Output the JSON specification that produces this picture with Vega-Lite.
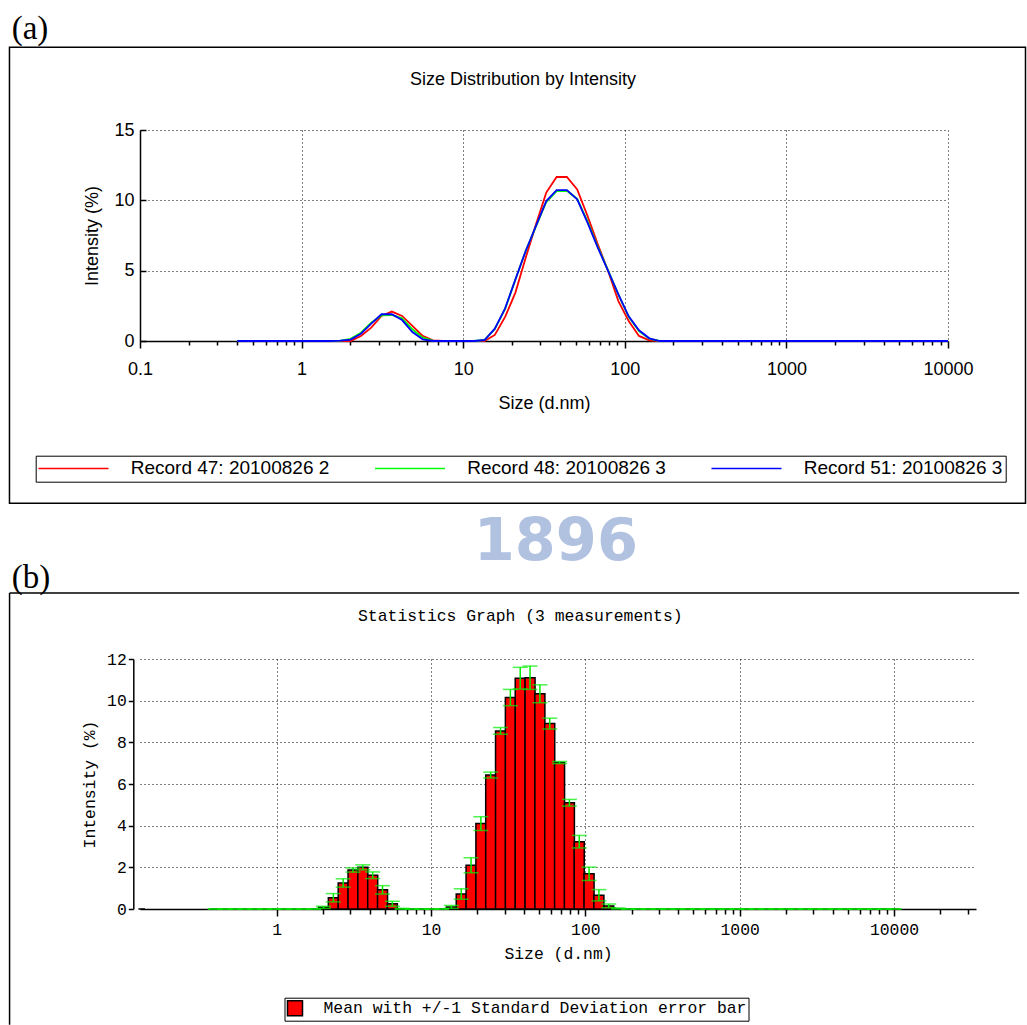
{
  "$schema": "https://vega.github.io/schema/vega-lite/v6.json",
  "background": "white",
  "padding": {"left": 8, "top": 12, "right": 0, "bottom": 0},
  "spacing": 8,
  "bounds": "full",
  "resolve": {"scale": {"color": "independent"}, "legend": {"color": "independent"}},
  "config": {"view": {"stroke": null}},
  "datasets": {
    "curves": [
      {"record": "Record 47: 20100826 2", "size": 0.4, "intensity": 0},
      {"record": "Record 47: 20100826 2", "size": 1.736, "intensity": 0},
      {"record": "Record 47: 20100826 2", "size": 2.01, "intensity": 0},
      {"record": "Record 47: 20100826 2", "size": 2.328, "intensity": 0.36},
      {"record": "Record 47: 20100826 2", "size": 2.696, "intensity": 0.95},
      {"record": "Record 47: 20100826 2", "size": 3.122, "intensity": 1.78},
      {"record": "Record 47: 20100826 2", "size": 3.615, "intensity": 2.09},
      {"record": "Record 47: 20100826 2", "size": 4.187, "intensity": 1.78},
      {"record": "Record 47: 20100826 2", "size": 4.849, "intensity": 1.07},
      {"record": "Record 47: 20100826 2", "size": 5.615, "intensity": 0.36},
      {"record": "Record 47: 20100826 2", "size": 6.503, "intensity": 0.05},
      {"record": "Record 47: 20100826 2", "size": 7.531, "intensity": 0},
      {"record": "Record 47: 20100826 2", "size": 11.7, "intensity": 0},
      {"record": "Record 47: 20100826 2", "size": 13.54, "intensity": 0},
      {"record": "Record 47: 20100826 2", "size": 15.69, "intensity": 0.43},
      {"record": "Record 47: 20100826 2", "size": 18.17, "intensity": 1.71},
      {"record": "Record 47: 20100826 2", "size": 21.04, "intensity": 3.44},
      {"record": "Record 47: 20100826 2", "size": 24.36, "intensity": 5.92},
      {"record": "Record 47: 20100826 2", "size": 28.21, "intensity": 8.29},
      {"record": "Record 47: 20100826 2", "size": 32.67, "intensity": 10.55},
      {"record": "Record 47: 20100826 2", "size": 37.84, "intensity": 11.66},
      {"record": "Record 47: 20100826 2", "size": 43.82, "intensity": 11.66},
      {"record": "Record 47: 20100826 2", "size": 50.75, "intensity": 10.78},
      {"record": "Record 47: 20100826 2", "size": 58.77, "intensity": 8.89},
      {"record": "Record 47: 20100826 2", "size": 68.06, "intensity": 6.87},
      {"record": "Record 47: 20100826 2", "size": 78.82, "intensity": 4.98},
      {"record": "Record 47: 20100826 2", "size": 91.28, "intensity": 2.84},
      {"record": "Record 47: 20100826 2", "size": 105.7, "intensity": 1.42},
      {"record": "Record 47: 20100826 2", "size": 122.4, "intensity": 0.36},
      {"record": "Record 47: 20100826 2", "size": 141.8, "intensity": 0.05},
      {"record": "Record 47: 20100826 2", "size": 164.2, "intensity": 0},
      {"record": "Record 47: 20100826 2", "size": 10000, "intensity": 0},
      {"record": "Record 48: 20100826 3", "size": 0.4, "intensity": 0},
      {"record": "Record 48: 20100826 3", "size": 1.499, "intensity": 0},
      {"record": "Record 48: 20100826 3", "size": 1.736, "intensity": 0.03},
      {"record": "Record 48: 20100826 3", "size": 2.01, "intensity": 0.15},
      {"record": "Record 48: 20100826 3", "size": 2.328, "intensity": 0.59},
      {"record": "Record 48: 20100826 3", "size": 2.696, "intensity": 1.3},
      {"record": "Record 48: 20100826 3", "size": 3.122, "intensity": 1.82},
      {"record": "Record 48: 20100826 3", "size": 3.615, "intensity": 1.85},
      {"record": "Record 48: 20100826 3", "size": 4.187, "intensity": 1.61},
      {"record": "Record 48: 20100826 3", "size": 4.849, "intensity": 0.83},
      {"record": "Record 48: 20100826 3", "size": 5.615, "intensity": 0.24},
      {"record": "Record 48: 20100826 3", "size": 6.503, "intensity": 0.02},
      {"record": "Record 48: 20100826 3", "size": 7.531, "intensity": 0},
      {"record": "Record 48: 20100826 3", "size": 11.7, "intensity": 0},
      {"record": "Record 48: 20100826 3", "size": 13.54, "intensity": 0.07},
      {"record": "Record 48: 20100826 3", "size": 15.69, "intensity": 0.85},
      {"record": "Record 48: 20100826 3", "size": 18.17, "intensity": 2.28},
      {"record": "Record 48: 20100826 3", "size": 21.04, "intensity": 4.36},
      {"record": "Record 48: 20100826 3", "size": 24.36, "intensity": 6.4},
      {"record": "Record 48: 20100826 3", "size": 28.21, "intensity": 8.15},
      {"record": "Record 48: 20100826 3", "size": 32.67, "intensity": 9.88},
      {"record": "Record 48: 20100826 3", "size": 37.84, "intensity": 10.66},
      {"record": "Record 48: 20100826 3", "size": 43.82, "intensity": 10.68},
      {"record": "Record 48: 20100826 3", "size": 50.75, "intensity": 10.1},
      {"record": "Record 48: 20100826 3", "size": 58.77, "intensity": 8.5},
      {"record": "Record 48: 20100826 3", "size": 68.06, "intensity": 6.7},
      {"record": "Record 48: 20100826 3", "size": 78.82, "intensity": 5.02},
      {"record": "Record 48: 20100826 3", "size": 91.28, "intensity": 3.3},
      {"record": "Record 48: 20100826 3", "size": 105.7, "intensity": 1.72},
      {"record": "Record 48: 20100826 3", "size": 122.4, "intensity": 0.7},
      {"record": "Record 48: 20100826 3", "size": 141.8, "intensity": 0.17},
      {"record": "Record 48: 20100826 3", "size": 164.2, "intensity": 0},
      {"record": "Record 48: 20100826 3", "size": 10000, "intensity": 0},
      {"record": "Record 51: 20100826 3", "size": 0.4, "intensity": 0},
      {"record": "Record 51: 20100826 3", "size": 1.499, "intensity": 0},
      {"record": "Record 51: 20100826 3", "size": 1.736, "intensity": 0.02},
      {"record": "Record 51: 20100826 3", "size": 2.01, "intensity": 0.1},
      {"record": "Record 51: 20100826 3", "size": 2.328, "intensity": 0.52},
      {"record": "Record 51: 20100826 3", "size": 2.696, "intensity": 1.23},
      {"record": "Record 51: 20100826 3", "size": 3.122, "intensity": 1.9},
      {"record": "Record 51: 20100826 3", "size": 3.615, "intensity": 1.9},
      {"record": "Record 51: 20100826 3", "size": 4.187, "intensity": 1.49},
      {"record": "Record 51: 20100826 3", "size": 4.849, "intensity": 0.64},
      {"record": "Record 51: 20100826 3", "size": 5.615, "intensity": 0.12},
      {"record": "Record 51: 20100826 3", "size": 6.503, "intensity": 0},
      {"record": "Record 51: 20100826 3", "size": 11.7, "intensity": 0},
      {"record": "Record 51: 20100826 3", "size": 13.54, "intensity": 0.07},
      {"record": "Record 51: 20100826 3", "size": 15.69, "intensity": 0.88},
      {"record": "Record 51: 20100826 3", "size": 18.17, "intensity": 2.32},
      {"record": "Record 51: 20100826 3", "size": 21.04, "intensity": 4.38},
      {"record": "Record 51: 20100826 3", "size": 24.36, "intensity": 6.4},
      {"record": "Record 51: 20100826 3", "size": 28.21, "intensity": 8.18},
      {"record": "Record 51: 20100826 3", "size": 32.67, "intensity": 9.95},
      {"record": "Record 51: 20100826 3", "size": 37.84, "intensity": 10.73},
      {"record": "Record 51: 20100826 3", "size": 43.82, "intensity": 10.73},
      {"record": "Record 51: 20100826 3", "size": 50.75, "intensity": 10.07},
      {"record": "Record 51: 20100826 3", "size": 58.77, "intensity": 8.41},
      {"record": "Record 51: 20100826 3", "size": 68.06, "intensity": 6.64},
      {"record": "Record 51: 20100826 3", "size": 78.82, "intensity": 4.98},
      {"record": "Record 51: 20100826 3", "size": 91.28, "intensity": 3.32},
      {"record": "Record 51: 20100826 3", "size": 105.7, "intensity": 1.75},
      {"record": "Record 51: 20100826 3", "size": 122.4, "intensity": 0.76},
      {"record": "Record 51: 20100826 3", "size": 141.8, "intensity": 0.19},
      {"record": "Record 51: 20100826 3", "size": 164.2, "intensity": 0},
      {"record": "Record 51: 20100826 3", "size": 10000, "intensity": 0}
    ],
    "stats": [
      {"size": 0.4, "mean": 0, "sd": 0, "series": "Mean with +/-1 Standard Deviation error bar"},
      {"size": 0.4632, "mean": 0, "sd": 0, "series": "Mean with +/-1 Standard Deviation error bar"},
      {"size": 0.5365, "mean": 0, "sd": 0, "series": "Mean with +/-1 Standard Deviation error bar"},
      {"size": 0.6213, "mean": 0, "sd": 0, "series": "Mean with +/-1 Standard Deviation error bar"},
      {"size": 0.7195, "mean": 0, "sd": 0, "series": "Mean with +/-1 Standard Deviation error bar"},
      {"size": 0.8332, "mean": 0, "sd": 0, "series": "Mean with +/-1 Standard Deviation error bar"},
      {"size": 0.9649, "mean": 0, "sd": 0, "series": "Mean with +/-1 Standard Deviation error bar"},
      {"size": 1.117, "mean": 0, "sd": 0, "series": "Mean with +/-1 Standard Deviation error bar"},
      {"size": 1.294, "mean": 0, "sd": 0, "series": "Mean with +/-1 Standard Deviation error bar"},
      {"size": 1.499, "mean": 0, "sd": 0, "series": "Mean with +/-1 Standard Deviation error bar"},
      {"size": 1.736, "mean": 0, "sd": 0, "series": "Mean with +/-1 Standard Deviation error bar"},
      {"size": 2.01, "mean": 0.08, "sd": 0.05, "series": "Mean with +/-1 Standard Deviation error bar"},
      {"size": 2.328, "mean": 0.54, "sd": 0.2, "series": "Mean with +/-1 Standard Deviation error bar"},
      {"size": 2.696, "mean": 1.25, "sd": 0.2, "series": "Mean with +/-1 Standard Deviation error bar"},
      {"size": 3.122, "mean": 1.87, "sd": 0.1, "series": "Mean with +/-1 Standard Deviation error bar"},
      {"size": 3.615, "mean": 2.0, "sd": 0.12, "series": "Mean with +/-1 Standard Deviation error bar"},
      {"size": 4.187, "mean": 1.62, "sd": 0.16, "series": "Mean with +/-1 Standard Deviation error bar"},
      {"size": 4.849, "mean": 0.92, "sd": 0.2, "series": "Mean with +/-1 Standard Deviation error bar"},
      {"size": 5.615, "mean": 0.25, "sd": 0.12, "series": "Mean with +/-1 Standard Deviation error bar"},
      {"size": 6.503, "mean": 0.01, "sd": 0.02, "series": "Mean with +/-1 Standard Deviation error bar"},
      {"size": 7.531, "mean": 0, "sd": 0, "series": "Mean with +/-1 Standard Deviation error bar"},
      {"size": 8.721, "mean": 0, "sd": 0, "series": "Mean with +/-1 Standard Deviation error bar"},
      {"size": 10.1, "mean": 0, "sd": 0, "series": "Mean with +/-1 Standard Deviation error bar"},
      {"size": 11.7, "mean": 0, "sd": 0, "series": "Mean with +/-1 Standard Deviation error bar"},
      {"size": 13.54, "mean": 0.1, "sd": 0.07, "series": "Mean with +/-1 Standard Deviation error bar"},
      {"size": 15.69, "mean": 0.72, "sd": 0.25, "series": "Mean with +/-1 Standard Deviation error bar"},
      {"size": 18.17, "mean": 2.1, "sd": 0.36, "series": "Mean with +/-1 Standard Deviation error bar"},
      {"size": 21.04, "mean": 4.1, "sd": 0.33, "series": "Mean with +/-1 Standard Deviation error bar"},
      {"size": 24.36, "mean": 6.43, "sd": 0.14, "series": "Mean with +/-1 Standard Deviation error bar"},
      {"size": 28.21, "mean": 8.55, "sd": 0.16, "series": "Mean with +/-1 Standard Deviation error bar"},
      {"size": 32.67, "mean": 10.15, "sd": 0.39, "series": "Mean with +/-1 Standard Deviation error bar"},
      {"size": 37.84, "mean": 11.08, "sd": 0.52, "series": "Mean with +/-1 Standard Deviation error bar"},
      {"size": 43.82, "mean": 11.1, "sd": 0.56, "series": "Mean with +/-1 Standard Deviation error bar"},
      {"size": 50.75, "mean": 10.33, "sd": 0.43, "series": "Mean with +/-1 Standard Deviation error bar"},
      {"size": 58.77, "mean": 8.9, "sd": 0.26, "series": "Mean with +/-1 Standard Deviation error bar"},
      {"size": 68.06, "mean": 7.03, "sd": 0.05, "series": "Mean with +/-1 Standard Deviation error bar"},
      {"size": 78.82, "mean": 5.1, "sd": 0.16, "series": "Mean with +/-1 Standard Deviation error bar"},
      {"size": 91.28, "mean": 3.23, "sd": 0.3, "series": "Mean with +/-1 Standard Deviation error bar"},
      {"size": 105.7, "mean": 1.69, "sd": 0.32, "series": "Mean with +/-1 Standard Deviation error bar"},
      {"size": 122.4, "mean": 0.66, "sd": 0.27, "series": "Mean with +/-1 Standard Deviation error bar"},
      {"size": 141.8, "mean": 0.15, "sd": 0.09, "series": "Mean with +/-1 Standard Deviation error bar"},
      {"size": 164.2, "mean": 0.02, "sd": 0.02, "series": "Mean with +/-1 Standard Deviation error bar"},
      {"size": 190.1, "mean": 0, "sd": 0, "series": "Mean with +/-1 Standard Deviation error bar"},
      {"size": 220.2, "mean": 0, "sd": 0, "series": "Mean with +/-1 Standard Deviation error bar"},
      {"size": 255, "mean": 0, "sd": 0, "series": "Mean with +/-1 Standard Deviation error bar"},
      {"size": 295.3, "mean": 0, "sd": 0, "series": "Mean with +/-1 Standard Deviation error bar"},
      {"size": 342, "mean": 0, "sd": 0, "series": "Mean with +/-1 Standard Deviation error bar"},
      {"size": 396.1, "mean": 0, "sd": 0, "series": "Mean with +/-1 Standard Deviation error bar"},
      {"size": 458.7, "mean": 0, "sd": 0, "series": "Mean with +/-1 Standard Deviation error bar"},
      {"size": 531.2, "mean": 0, "sd": 0, "series": "Mean with +/-1 Standard Deviation error bar"},
      {"size": 615.1, "mean": 0, "sd": 0, "series": "Mean with +/-1 Standard Deviation error bar"},
      {"size": 712.4, "mean": 0, "sd": 0, "series": "Mean with +/-1 Standard Deviation error bar"},
      {"size": 825, "mean": 0, "sd": 0, "series": "Mean with +/-1 Standard Deviation error bar"},
      {"size": 955.4, "mean": 0, "sd": 0, "series": "Mean with +/-1 Standard Deviation error bar"},
      {"size": 1106, "mean": 0, "sd": 0, "series": "Mean with +/-1 Standard Deviation error bar"},
      {"size": 1281, "mean": 0, "sd": 0, "series": "Mean with +/-1 Standard Deviation error bar"},
      {"size": 1484, "mean": 0, "sd": 0, "series": "Mean with +/-1 Standard Deviation error bar"},
      {"size": 1718, "mean": 0, "sd": 0, "series": "Mean with +/-1 Standard Deviation error bar"},
      {"size": 1990, "mean": 0, "sd": 0, "series": "Mean with +/-1 Standard Deviation error bar"},
      {"size": 2305, "mean": 0, "sd": 0, "series": "Mean with +/-1 Standard Deviation error bar"},
      {"size": 2669, "mean": 0, "sd": 0, "series": "Mean with +/-1 Standard Deviation error bar"},
      {"size": 3091, "mean": 0, "sd": 0, "series": "Mean with +/-1 Standard Deviation error bar"},
      {"size": 3580, "mean": 0, "sd": 0, "series": "Mean with +/-1 Standard Deviation error bar"},
      {"size": 4145, "mean": 0, "sd": 0, "series": "Mean with +/-1 Standard Deviation error bar"},
      {"size": 4801, "mean": 0, "sd": 0, "series": "Mean with +/-1 Standard Deviation error bar"},
      {"size": 5560, "mean": 0, "sd": 0, "series": "Mean with +/-1 Standard Deviation error bar"},
      {"size": 6439, "mean": 0, "sd": 0, "series": "Mean with +/-1 Standard Deviation error bar"},
      {"size": 7456, "mean": 0, "sd": 0, "series": "Mean with +/-1 Standard Deviation error bar"},
      {"size": 8635, "mean": 0, "sd": 0, "series": "Mean with +/-1 Standard Deviation error bar"},
      {"size": 10000, "mean": 0, "sd": 0, "series": "Mean with +/-1 Standard Deviation error bar"}
    ]
  },
  "vconcat": [
    {
      "width": 808,
      "height": 211,
      "layer": [
        {
          "data": {"name": "curves"},
          "mark": {"type": "line", "strokeWidth": 1.8},
          "encoding": {
            "x": {
              "field": "size", "type": "quantitative",
              "scale": {"type": "log", "domain": [0.1, 10000], "nice": false},
              "axis": {
                "title": "Size (d.nm)", "titleFont": "Liberation Sans", "titleFontSize": 18, "titleFontWeight": "normal", "titleColor": "black", "titlePadding": 16,
                "values": [0.1, 0.2, 0.3, 0.4, 0.5, 0.6, 0.7, 0.8, 0.9, 1, 2, 3, 4, 5, 6, 7, 8, 9, 10, 20, 30, 40, 50, 60, 70, 80, 90, 100, 200, 300, 400, 500, 600, 700, 800, 900, 1000, 2000, 3000, 4000, 5000, 6000, 7000, 8000, 9000, 10000],
                "labelExpr": "abs(log(datum.value)/LN10 - round(log(datum.value)/LN10)) < 0.001 ? format(datum.value, '~g') : ''",
                "labelFont": "Liberation Sans", "labelFontSize": 18, "labelColor": "black", "labelPadding": 12, "labelFlush": false, "labelOverlap": false,
                "tickColor": "black", "tickWidth": 1.5, "tickSize": 7,
                "tickDash": {"condition": {"test": "abs(log(datum.value)/LN10 - round(log(datum.value)/LN10)) < 0.001", "value": [10, 0]}, "value": [4, 20]},
                "domainColor": "black", "domainWidth": 1.5,
                "grid": true, "gridColor": "black", "gridWidth": 1, "gridDash": [1, 3],
                "gridOpacity": {"condition": {"test": "abs(log(datum.value)/LN10 - round(log(datum.value)/LN10)) < 0.001 && datum.value > 0.2", "value": 1}, "value": 0}
              }
            },
            "y": {
              "field": "intensity", "type": "quantitative",
              "scale": {"domain": [0, 15], "nice": false, "zero": false},
              "axis": {
                "title": "Intensity (%)", "titleFont": "Liberation Sans", "titleFontSize": 18, "titleFontWeight": "normal", "titleColor": "black", "titlePadding": 12,
                "values": [0, 2.5, 5, 7.5, 10, 12.5, 15],
                "labelExpr": "datum.value % 5 == 0 ? format(datum.value, 'd') : ''",
                "labelFont": "Liberation Sans", "labelFontSize": 18, "labelColor": "black", "labelPadding": 12, "labelOverlap": false,
                "tickColor": "black", "tickWidth": 1.5, "tickSize": -6,
                "domainColor": "black", "domainWidth": 1.5,
                "grid": true, "gridColor": "black", "gridWidth": 1, "gridDash": [1, 3],
                "gridOpacity": {"condition": {"test": "datum.value % 5 == 0 && datum.value > 0", "value": 1}, "value": 0}
              }
            },
            "color": {
              "field": "record", "type": "nominal",
              "scale": {"domain": ["Record 47: 20100826 2", "Record 48: 20100826 3", "Record 51: 20100826 3"], "range": ["#ff0000", "#00ff00", "#0000ff"]},
              "legend": {
                "title": null, "orient": "none", "legendX": -104.3, "legendY": 325.7, "direction": "horizontal", "columns": 3,
                "symbolType": "M-9.7,0H60.3", "symbolSize": 4, "symbolStrokeWidth": 1.5,
                "labelFont": "Liberation Sans", "labelFontSize": 19, "labelColor": "black", "labelOffset": 73, "labelLimit": 400,
                "columnPadding": 41.5, "strokeColor": "black", "padding": 3
              }
            }
          }
        },
        {
          "data": {"values": [{}]},
          "mark": {"type": "rect", "fill": "transparent", "stroke": "black", "strokeWidth": 1.5, "clip": false},
          "encoding": {
            "x": {"datum": 0.01557, "type": "quantitative"},
            "x2": {"datum": 30170},
            "y": {"datum": 20.886, "type": "quantitative"},
            "y2": {"datum": -11.53}
          }
        },
        {
          "data": {"values": [{}]},
          "mark": {"type": "text", "text": "(a)", "font": "Liberation Serif", "fontSize": 33, "align": "left", "baseline": "alphabetic", "color": "black", "clip": false},
          "encoding": {
            "x": {"datum": 0.01607, "type": "quantitative"},
            "y": {"datum": 21.47, "type": "quantitative"}
          }
        },
        {
          "data": {"values": [{}]},
          "mark": {"type": "text", "text": "Size Distribution by Intensity", "font": "Liberation Sans", "fontSize": 18, "align": "center", "baseline": "middle", "color": "black", "clip": false},
          "encoding": {
            "x": {"datum": 23.44, "type": "quantitative"},
            "y": {"datum": 18.545, "type": "quantitative"}
          }
        }
      ]
    },
    {
      "width": 836,
      "height": 250,
      "layer": [
        {
          "data": {"values": [{}]},
          "mark": {"type": "rule", "stroke": "black", "strokeWidth": 1.5, "clip": false},
          "encoding": {
            "x": {"datum": 0.1269, "type": "quantitative"},
            "x2": {"datum": 0.1401},
            "y": {"datum": 0, "type": "quantitative"}
          }
        },
        {
          "data": {"name": "stats"},
          "mark": {"type": "bar", "orient": "vertical", "width": 10, "stroke": "black", "strokeWidth": 1.5},
          "encoding": {
            "x": {
              "field": "size", "type": "quantitative",
              "scale": {"type": "log", "domain": [0.1401, 31550], "nice": false},
              "axis": {
                "title": "Size (d.nm)", "titleFont": "Liberation Mono", "titleFontSize": 16.4, "titleFontWeight": "normal", "titleColor": "black", "titlePadding": 8,
                "values": [1, 2, 3, 4, 5, 6, 7, 8, 9, 10, 20, 30, 40, 50, 60, 70, 80, 90, 100, 200, 300, 400, 500, 600, 700, 800, 900, 1000, 2000, 3000, 4000, 5000, 6000, 7000, 8000, 9000, 10000, 20000, 30000],
                "labelExpr": "abs(log(datum.value)/LN10 - round(log(datum.value)/LN10)) < 0.001 ? format(datum.value, '~g') : ''",
                "labelFont": "Liberation Mono", "labelFontSize": 16.4, "labelColor": "black", "labelPadding": 5, "labelFlush": false, "labelOverlap": false,
                "tickColor": "black", "tickWidth": 1.5, "tickSize": 7,
                "tickDash": {"condition": {"test": "abs(log(datum.value)/LN10 - round(log(datum.value)/LN10)) < 0.001", "value": [10, 0]}, "value": [5, 20]},
                "domainColor": "black", "domainWidth": 1.5,
                "grid": true, "gridColor": "black", "gridWidth": 1, "gridDash": [1, 3],
                "gridOpacity": {"condition": {"test": "abs(log(datum.value)/LN10 - round(log(datum.value)/LN10)) < 0.001", "value": 1}, "value": 0}
              }
            },
            "y": {
              "field": "mean", "type": "quantitative", "stack": null,
              "scale": {"domain": [0, 12], "nice": false, "zero": false},
              "axis": {
                "title": "Intensity (%)", "titleFont": "Liberation Mono", "titleFontSize": 16.4, "titleFontWeight": "normal", "titleColor": "black", "titlePadding": 9,
                "offset": 6.7,
                "values": [0, 1, 2, 3, 4, 5, 6, 7, 8, 9, 10, 11, 12],
                "labelExpr": "datum.value % 2 == 0 ? format(datum.value, 'd') : ''",
                "labelFont": "Liberation Mono", "labelFontSize": 16.4, "labelColor": "black", "labelPadding": 2, "labelOverlap": false,
                "tickColor": "black", "tickWidth": 1.5, "tickSize": 5,
                "domainColor": "black", "domainWidth": 1.5,
                "grid": true, "gridColor": "black", "gridWidth": 1, "gridDash": [1, 3],
                "gridOpacity": {"condition": {"test": "datum.value % 2 == 0 && datum.value > 0", "value": 1}, "value": 0}
              }
            },
            "color": {
              "field": "series", "type": "nominal",
              "scale": {"range": ["#ff0000"]},
              "legend": {
                "title": null, "orient": "none", "legendX": 144.5, "legendY": 338.7,
                "symbolType": "square", "symbolSize": 225, "symbolStrokeColor": "black", "symbolStrokeWidth": 1.5,
                "labelFont": "Liberation Mono", "labelFontSize": 16.4, "labelColor": "black", "labelOffset": 20, "labelLimit": 600,
                "strokeColor": "black", "padding": 2
              }
            }
          }
        },
        {
          "data": {"name": "stats"},
          "mark": {"type": "errorbar", "color": "#00ee00", "thickness": 1.5, "ticks": {"size": 15, "thickness": 1.5}},
          "encoding": {
            "x": {"field": "size", "type": "quantitative", "title": "Size (d.nm)"},
            "y": {"field": "mean", "type": "quantitative", "title": "Intensity (%)"},
            "yError": {"field": "sd"}
          }
        },
        {
          "data": {"values": [{}]},
          "mark": {"type": "rule", "stroke": "black", "strokeWidth": 1.5, "clip": false},
          "encoding": {
            "x": {"datum": 0.01857, "type": "quantitative"},
            "x2": {"datum": 64700},
            "y": {"datum": 15.168, "type": "quantitative"}
          }
        },
        {
          "data": {"values": [{}]},
          "mark": {"type": "rule", "stroke": "black", "strokeWidth": 1.5, "clip": false},
          "encoding": {
            "x": {"datum": 0.01857, "type": "quantitative"},
            "y": {"datum": 15.168, "type": "quantitative"},
            "y2": {"datum": -5.55}
          }
        },
        {
          "data": {"values": [{}]},
          "mark": {"type": "text", "text": "1896", "font": "DejaVu Sans", "fontSize": 59, "fontWeight": "bold", "align": "center", "baseline": "middle", "color": "#b1c1e0", "clip": false},
          "encoding": {
            "x": {"datum": 64.4, "type": "quantitative"},
            "y": {"datum": 17.63, "type": "quantitative"}
          }
        },
        {
          "data": {"values": [{}]},
          "mark": {"type": "text", "text": "(b)", "font": "Liberation Serif", "fontSize": 33, "align": "left", "baseline": "alphabetic", "color": "black", "clip": false},
          "encoding": {
            "x": {"datum": 0.01918, "type": "quantitative"},
            "y": {"datum": 15.389, "type": "quantitative"}
          }
        },
        {
          "data": {"values": [{}]},
          "mark": {"type": "text", "text": "Statistics Graph (3 measurements)", "font": "Liberation Mono", "fontSize": 16.4, "align": "center", "baseline": "middle", "color": "black", "clip": false},
          "encoding": {
            "x": {"datum": 37.9, "type": "quantitative"},
            "y": {"datum": 14.08, "type": "quantitative"}
          }
        }
      ]
    }
  ]
}
